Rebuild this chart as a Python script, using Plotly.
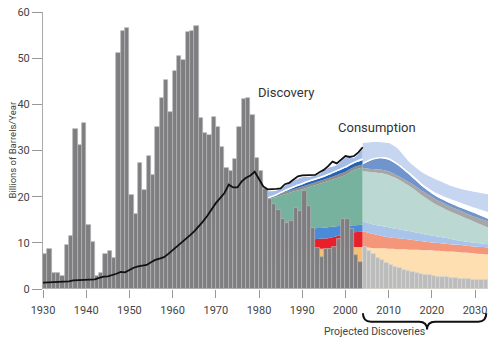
import plotly.graph_objects as go

# ---------------- data ----------------
hist_years = list(range(1930, 2004))
hist_discovery = [7.6, 8.6, 3.4, 3.4, 2.8, 9.5, 11.4, 34.6, 31.1, 36.0,
                  13.9, 10.2, 2.9, 3.4, 7.6, 8.2, 6.8, 51.2, 55.9, 56.6,
                  20.3, 16.2, 27.4, 21.4, 28.9, 24.8, 35.1, 41.4, 45.3, 38.4,
                  47.3, 50.5, 49.6, 55.6, 55.8, 56.9, 37.0, 33.9, 33.3, 37.3,
                  35.0, 30.7, 26.2, 25.5, 28.2, 35.0, 41.2, 41.4, 37.6, 28.4,
                  25.5, 21.6, 19.6, 18.4, 17.1, 15.1, 14.4, 14.8, 17.6, 16.8,
                  21.2, 18.0, 13.2, 8.8, 6.9, 8.7, 8.7, 9.2, 10.8, 15.1,
                  15.1, 13.0, 7.3, 5.9]

proj_years = list(range(2004, 2033))
proj_discovery = [9.1, 8.3, 7.5, 6.8, 6.2, 5.7, 5.2, 4.8, 4.5, 4.2,
                  3.9, 3.7, 3.5, 3.3, 3.1, 2.95, 2.8, 2.7, 2.6, 2.5,
                  2.4, 2.3, 2.2, 2.15, 2.1, 2.05, 2.0, 1.95, 1.9]

cons_years = list(range(1930, 2005))
consumption = [1.4, 1.45, 1.45, 1.5, 1.5, 1.55, 1.65, 1.85, 1.9, 1.95,
               2.0, 2.05, 2.1, 2.4, 2.7, 2.75, 3.0, 3.3, 3.7, 3.6,
               4.1, 4.6, 4.9, 5.1, 5.2, 5.8, 6.3, 6.6, 6.9, 7.6,
               8.4, 9.1, 9.9, 10.6, 11.6, 12.5, 13.5, 14.6, 15.8, 17.2,
               18.6, 19.7, 20.8, 22.6, 22.0, 22.0, 23.3, 24.1, 24.6, 25.4,
               23.9, 22.2, 21.6, 21.6, 21.7, 21.8, 22.7, 23.0, 23.8, 24.4,
               24.6, 24.6, 24.7, 24.7, 25.3, 25.8, 26.6, 27.6, 27.2, 28.1,
               28.8, 28.6, 28.8, 29.6, 30.7]

# historical supply layers (upper boundaries, bottom to top)
h_years = [1982, 1984, 1986, 1988, 1990, 1992, 1994, 1996, 1998, 2000, 2002, 2004]
h_base = [5.5] * len(h_years)
h_orange_top = [8.4, 8.4, 8.5, 8.5, 8.6, 8.6, 8.7, 8.7, 8.8, 8.9, 9.1, 9.1]
h_red_top = [10.2, 10.3, 10.4, 10.5, 10.6, 10.7, 10.9, 11.0, 11.4, 11.9, 12.3, 12.4]
h_blue_top = [12.6, 12.7, 12.8, 12.9, 13.0, 13.1, 13.2, 13.4, 13.6, 13.7, 13.8, 13.9]
h_green_top = [19.6, 19.9, 20.5, 21.1, 21.6, 22.2, 22.8, 23.4, 24.0, 24.7, 25.8, 26.3]
h_gray_top = [19.6, 20.2, 21.0, 21.6, 22.2, 22.8, 23.4, 24.0, 24.7, 25.4, 26.4, 27.0]
h_dblue_top = [19.6, 20.25, 21.15, 21.95, 22.65, 23.35, 23.95, 24.65, 25.45, 26.25, 27.25, 27.95]
h_white_top = [19.9, 20.6, 21.5, 22.3, 23.0, 23.7, 24.3, 25.0, 25.8, 26.6, 27.6, 28.3]
h_lblue_top = [21.2, 21.3, 22.3, 23.4, 24.2, 24.3, 24.9, 26.2, 26.8, 28.4, 28.4, 30.3]

# projected supply layers (upper boundaries, bottom to top)
p_years = [2004, 2006, 2008, 2010, 2012, 2015, 2018, 2021, 2024, 2027, 2030, 2033]
p_base = [0] * len(p_years)
p_orange_top = [9.1, 8.9, 8.8, 8.7, 8.6, 8.5, 8.4, 8.3, 8.1, 7.9, 7.7, 7.5]
p_salmon_top = [12.5, 12.0, 11.6, 11.2, 11.0, 10.7, 10.3, 10.0, 9.7, 9.5, 9.2, 9.0]
p_lblue2_top = [14.6, 14.1, 13.7, 13.4, 13.0, 12.5, 11.9, 11.4, 10.9, 10.4, 10.0, 9.7]
p_teal_top = [25.5, 25.3, 25.1, 24.7, 23.9, 22.2, 20.1, 18.3, 16.9, 15.7, 14.5, 13.3]
p_gray_top = [26.2, 26.0, 25.9, 25.5, 24.6, 23.0, 21.1, 19.4, 18.0, 16.8, 15.6, 14.7]
p_mblue_top = [27.0, 27.9, 28.3, 28.0, 26.9, 24.6, 22.1, 20.1, 18.7, 17.5, 16.4, 15.2]
p_white_top = [27.3, 28.2, 28.6, 28.4, 27.3, 25.1, 22.6, 20.8, 19.6, 18.6, 17.6, 16.7]
p_lblue_top = [31.6, 31.8, 31.8, 31.6, 30.5, 27.3, 25.1, 23.7, 22.5, 21.6, 21.0, 20.5]

x_ticks = [1930, 1940, 1950, 1960, 1970, 1980, 1990, 2000, 2010, 2020, 2030]
y_ticks = [0, 10, 20, 30, 40, 50, 60]
X_MIN, X_MAX = 1930, 2033

FONT = "Roboto"

fig = go.Figure()


def add_layers(xs, base, tops, colors):
    fig.add_trace(go.Scatter(x=xs, y=base, mode="lines",
                             line=dict(width=0), hoverinfo="skip", showlegend=False))
    for top, col in zip(tops, colors):
        fig.add_trace(go.Scatter(x=xs, y=top, mode="lines", fill="tonexty",
                                 fillcolor=col, line=dict(width=0, shape="spline", smoothing=0.6),
                                 hoverinfo="skip", showlegend=False))


add_layers(h_years, h_base,
           [h_orange_top, h_red_top, h_blue_top, h_green_top, h_gray_top,
            h_dblue_top, h_white_top, h_lblue_top],
           ["#f8bf72", "#e8202a", "#4a8ad8", "#76b29d", "#8e8e8e",
            "#2563b5", "#ffffff", "#a3bde6"])

add_layers(p_years, p_base,
           [p_orange_top, p_salmon_top, p_lblue2_top, p_teal_top, p_gray_top,
            p_mblue_top, p_white_top, p_lblue_top],
           ["#fddfb2", "#f4967a", "#a8c4eb", "#bbd8d2", "#a6a6a6",
            "#7094cc", "#ffffff", "#c6d6f0"])

# bars and line on overlay axis so they are drawn above the areas
fig.add_trace(go.Bar(x=[y + 0.5 for y in hist_years], y=hist_discovery,
                     marker=dict(color="#7e7e81", line=dict(width=0.7, color="#b4b4b6")),
                     yaxis="y2", showlegend=False))
fig.add_trace(go.Bar(x=[y + 0.5 for y in proj_years], y=proj_discovery,
                     marker=dict(color="#bcbcbc", line=dict(width=0.7, color="#d6d6d6")),
                     yaxis="y2", showlegend=False))
fig.add_trace(go.Scatter(x=cons_years, y=consumption, mode="lines",
                         line=dict(color="#111111", width=1.8),
                         yaxis="y2", showlegend=False))

W, H = 494, 352
ML, MR, MT, MB = 43, 6, 9, 63


def px_x(year):
    return (year - X_MIN) / (X_MAX - X_MIN)


def py(pix):
    return (H - MB - pix) / (H - MT - MB)


# curly bracket under projected period
x0, x1, xc = px_x(2004.05), px_x(2032.6), px_x(2018.9)
y0, y1, y2 = py(313.5), py(322), py(330)
r = 0.018
path = (f"M {x0},{y0} Q {x0},{y1} {x0 + r},{y1} L {xc - r},{y1} "
        f"Q {xc},{y1} {xc},{y2} Q {xc},{y1} {xc + r},{y1} "
        f"L {x1 - r},{y1} Q {x1},{y1} {x1},{y0}")
fig.add_shape(type="path", path=path, xref="paper", yref="paper",
              line=dict(color="#111111", width=2))

fig.add_annotation(x=(xc), y=py(341), xref="paper", yref="paper",
                   text="Projected Discoveries", showarrow=False,
                   font=dict(family=FONT, size=10.5, color="#444444"))
fig.add_annotation(x=1986.3, y=42.6, text="Discovery", showarrow=False,
                   font=dict(family=FONT, size=13, color="#333333"))
fig.add_annotation(x=2007.3, y=34.9, text="Consumption", showarrow=False,
                   font=dict(family=FONT, size=13, color="#333333"))
fig.add_annotation(x=(12 - ML) / (W - ML - MR), y=0.5, xref="paper", yref="paper",
                   xanchor="center", yanchor="middle",
                   text="Billions of Barrels/Year", textangle=-90, showarrow=False,
                   font=dict(family=FONT, size=9.5, color="#444444"))

fig.update_layout(
    width=W, height=H,
    margin=dict(l=ML, r=MR, t=MT, b=MB),
    paper_bgcolor="white", plot_bgcolor="white",
    bargap=0, barmode="overlay",
    xaxis=dict(range=[X_MIN, X_MAX], tickvals=x_ticks, ticks="outside", ticklen=8,
               tickcolor="#999999", showgrid=False, zeroline=False, showline=False,
               tickfont=dict(family=FONT, size=11, color="#444444"),
               ticklabelstandoff=3),
    yaxis=dict(range=[0, 60], tickvals=y_ticks, ticks="outside", ticklen=10,
               tickcolor="#999999", showgrid=False, zeroline=False, showline=True,
               linecolor="#aaaaaa", linewidth=1,
               tickfont=dict(family=FONT, size=11, color="#444444"),
               ticklabelstandoff=0),
    yaxis2=dict(range=[0, 60], overlaying="y", visible=False),
)

fig.write_html("out.html")
